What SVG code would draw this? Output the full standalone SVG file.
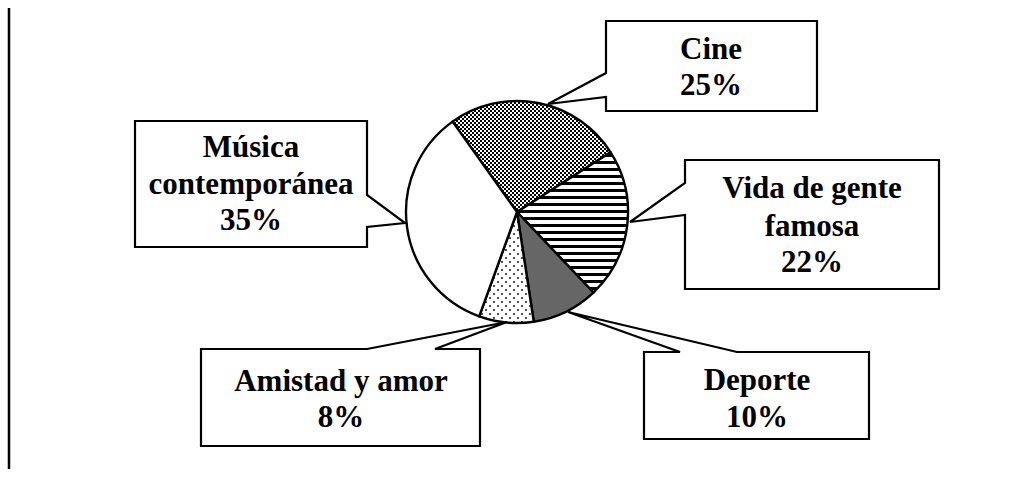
<svg xmlns="http://www.w3.org/2000/svg" width="1022" height="477" viewBox="0 0 1022 477">
  <style>
    .slice { stroke: #000; stroke-width: 2.4; stroke-linejoin: round; }
    .callout { fill: #fff; stroke: #000; stroke-width: 2.2; stroke-linejoin: miter; }
    .lbl { font-family: "Liberation Serif", "Times New Roman", serif; font-weight: bold; font-size: 31px; fill: #000; text-anchor: middle; }
  </style>
  <defs>
    <pattern id="checker" width="4" height="4" patternUnits="userSpaceOnUse">
      <rect width="4" height="4" fill="#fff"/>
      <rect x="0" y="0" width="2" height="2" fill="#000"/>
      <rect x="2" y="2" width="2" height="2" fill="#000"/>
    </pattern>
    <pattern id="hstripes" width="8" height="7" patternUnits="userSpaceOnUse">
      <rect width="8" height="7" fill="#fff"/>
      <rect x="0" y="0" width="8" height="3" fill="#000"/>
    </pattern>
    <pattern id="dots" width="8" height="8" patternUnits="userSpaceOnUse">
      <rect width="8" height="8" fill="#fff"/>
      <circle cx="2" cy="2" r="0.9" fill="#000"/>
      <circle cx="6" cy="6" r="0.9" fill="#000"/>
    </pattern>
  </defs>
  <rect width="1022" height="477" fill="#fff"/>
  <line x1="9" y1="8" x2="9" y2="469" stroke="#000" stroke-width="2.5"/>

  <g id="pie">
    <path class="slice" fill="url(#checker)" d="M517,212 L452.54,121.63 A111,111 0 0 1 610.62,152.36 Z"/>
    <path class="slice" fill="url(#hstripes)" d="M517,212 L610.62,152.36 A111,111 0 0 1 593.41,292.52 Z"/>
    <path class="slice" fill="#666" d="M517,212 L593.41,292.52 A111,111 0 0 1 533.79,321.72 Z"/>
    <path class="slice" fill="url(#dots)" d="M517,212 L533.79,321.72 A111,111 0 0 1 479.22,316.37 Z"/>
    <path class="slice" fill="#fff" d="M517,212 L479.22,316.37 A111,111 0 0 1 452.54,121.63 Z"/>
  </g>

  <g id="connectors"></g>

  <g id="cine">
    <path class="callout" d="M606,21 L817,21 L817,111 L606,111 L606,97 L548,104 L606,73 Z"/>
    <text class="lbl" x="711" y="59">Cine</text>
    <text class="lbl" x="711" y="95">25%</text>
  </g>

  <g id="musica">
    <path class="callout" d="M135,121 L367,121 L367,195 L405,223 L367,227 L367,247 L135,247 Z"/>
    <text class="lbl" x="251" y="157">Música</text>
    <text class="lbl" x="251" y="194">contemporánea</text>
    <text class="lbl" x="251" y="230">35%</text>
  </g>

  <g id="vida">
    <path class="callout" d="M685,160 L939,160 L939,289 L685,289 L685,215 L630,222 L685,183 Z"/>
    <text class="lbl" x="812" y="198">Vida de gente</text>
    <text class="lbl" x="812" y="236">famosa</text>
    <text class="lbl" x="812" y="272">22%</text>
  </g>

  <g id="amistad">
    <path class="callout" d="M201,349 L367,349 L507,322 L435,349 L480,349 L480,446 L201,446 Z"/>
    <text class="lbl" x="341" y="391">Amistad y amor</text>
    <text class="lbl" x="341" y="427">8%</text>
  </g>

  <g id="deporte">
    <path class="callout" d="M644,352 L680,352 L568,312 L737,352 L869,352 L869,439 L644,439 Z"/>
    <text class="lbl" x="757" y="390">Deporte</text>
    <text class="lbl" x="757" y="427">10%</text>
  </g>
</svg>
